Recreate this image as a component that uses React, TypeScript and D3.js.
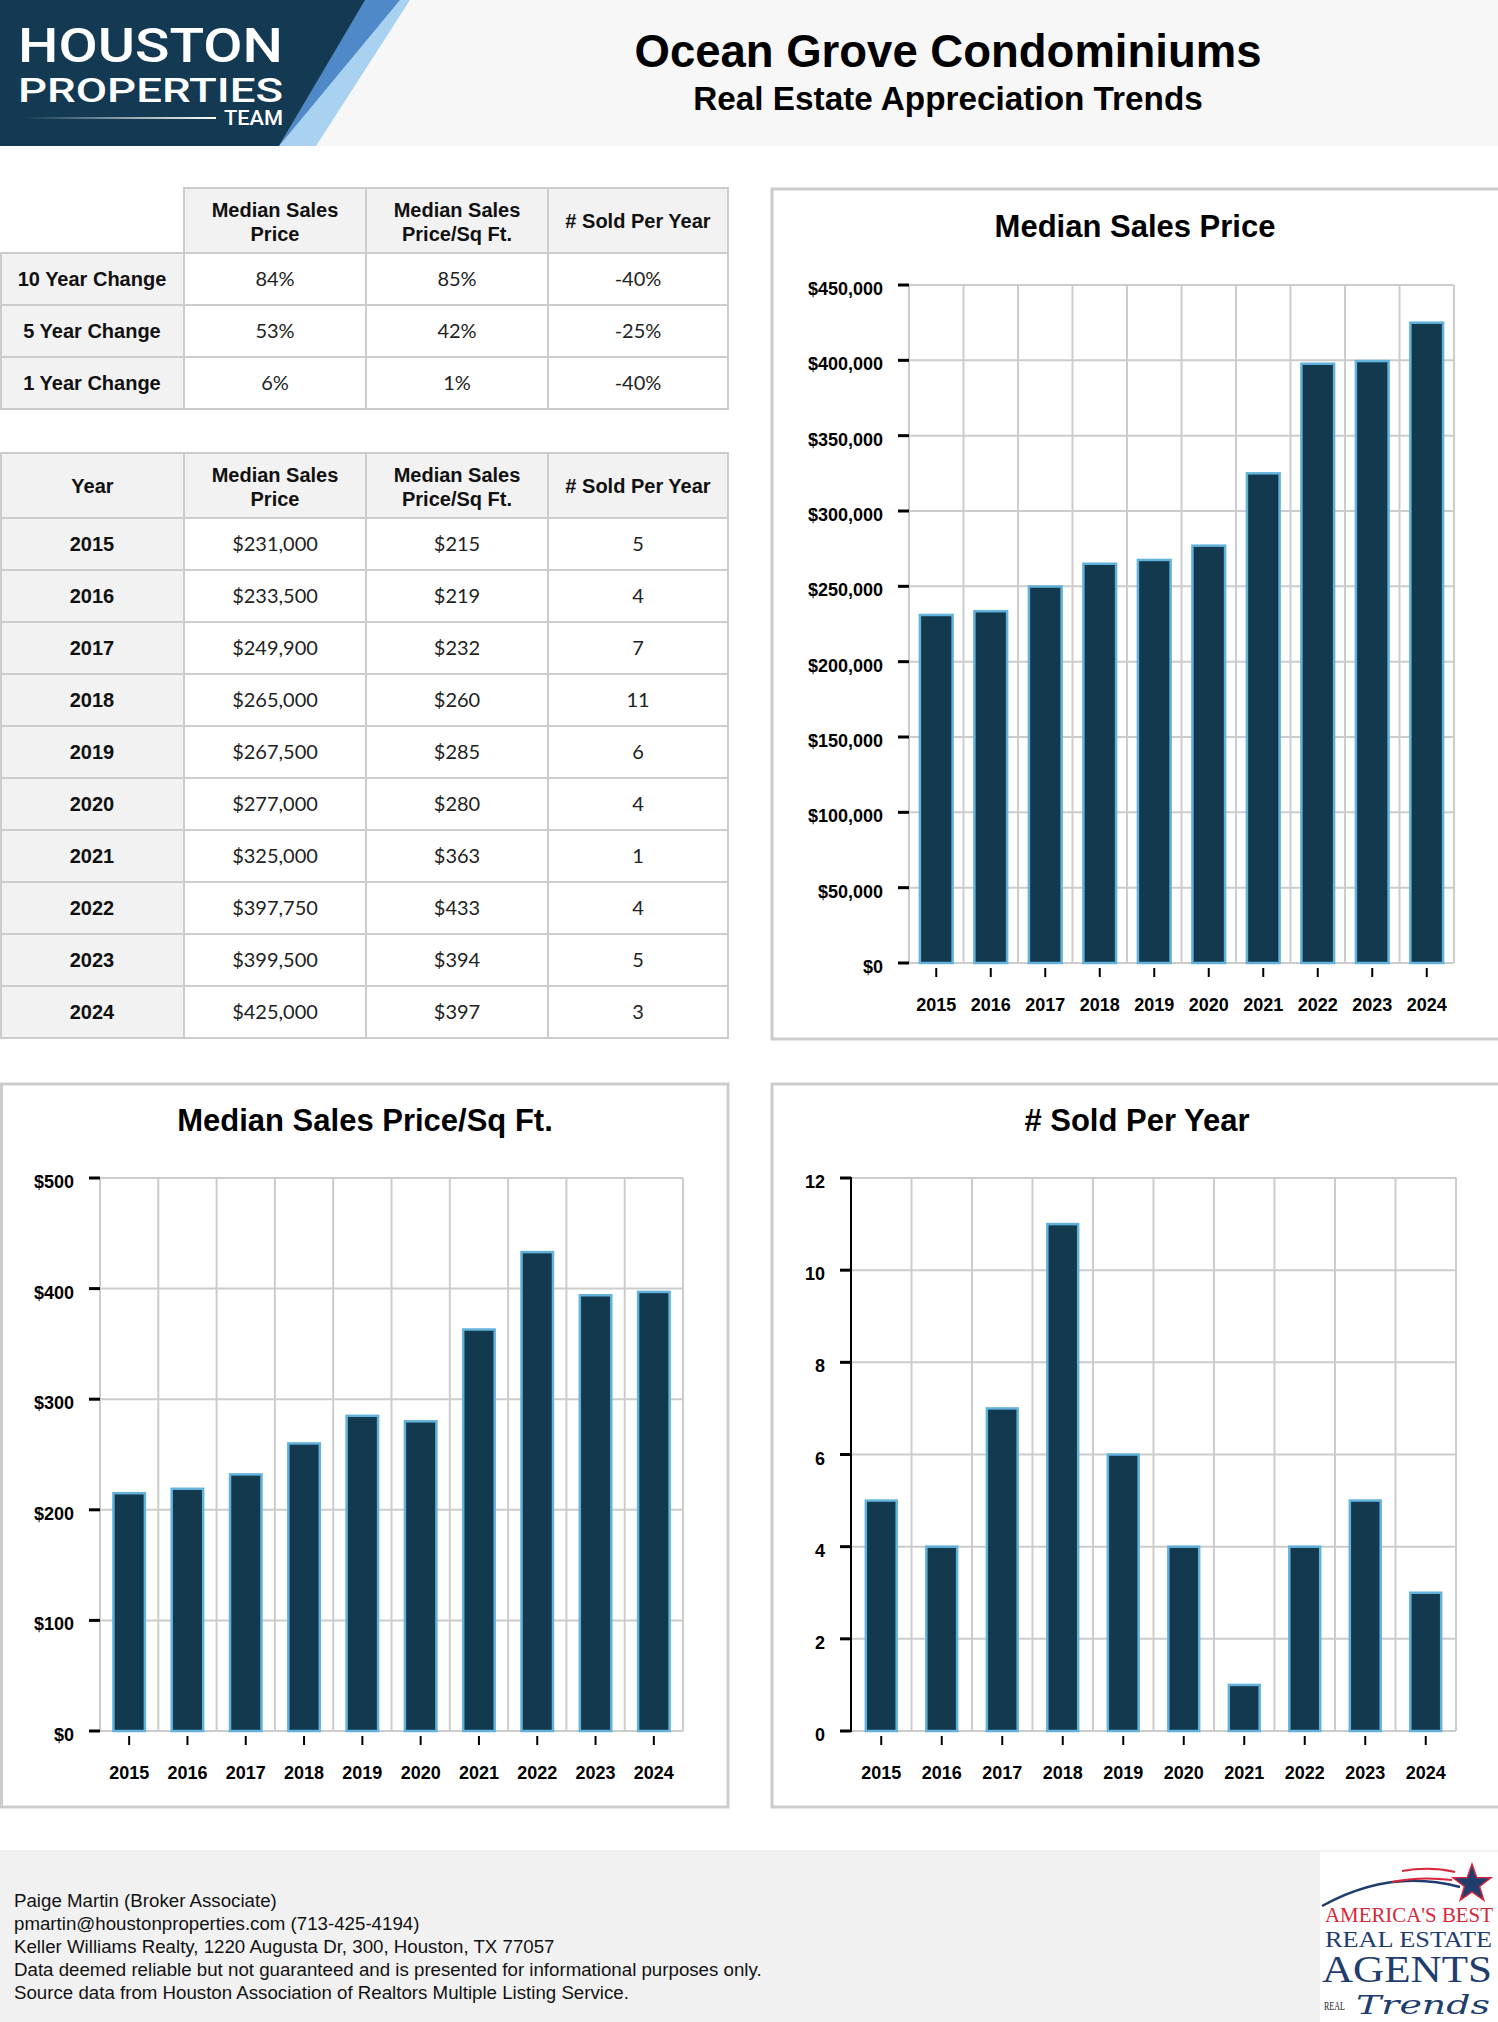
import React from 'react';
import * as d3 from 'd3';

const years = ['2015', '2016', '2017', '2018', '2019', '2020', '2021', '2022', '2023', '2024'];
const medianPrice = [231000, 233500, 249900, 265000, 267500, 277000, 325000, 397750, 399500, 425000];
const pricePerSqFt = [215, 219, 232, 260, 285, 280, 363, 433, 394, 397];
const soldPerYear = [5, 4, 7, 11, 6, 4, 1, 4, 5, 3];

const changeLabels = ['10 Year Change', '5 Year Change', '1 Year Change'];
const changePrice = ['84%', '53%', '6%'];
const changePsf = ['85%', '42%', '1%'];
const changeSold = ['-40%', '-25%', '-40%'];

const priceTicks = [0, 50000, 100000, 150000, 200000, 250000, 300000, 350000, 400000, 450000];
const psfTicks = [0, 100, 200, 300, 400, 500];
const soldTicks = [0, 2, 4, 6, 8, 10, 12];

const footerLines = [
  'Paige Martin (Broker Associate)',
  'pmartin@houstonproperties.com (713-425-4194)',
  'Keller Williams Realty, 1220 Augusta Dr, 300, Houston, TX 77057',
  'Data deemed reliable but not guaranteed and is presented for informational purposes only.',
  'Source data from Houston Association of Realtors Multiple Listing Service.',
];

const HEAD = '"Liberation Sans", Arial, Helvetica, sans-serif';
const VAL = 'Lato, "Liberation Sans", sans-serif';
const GRID = '#cccccc';
const BAR = '#12394e';
const BAR_STROKE = '#63b2dc';

const fmtMoney = (v: number) => '$' + d3.format(',')(v);
const fmtPlain = (v: number) => String(v);

type ChartProps = {
  title: string;
  values: number[];
  ticks: number[];
  fmt: (v: number) => string;
  panel: { x: number; y: number; w: number; h: number };
  plot: { left: number; right: number; top: number; bottom: number };
  titleX: number;
  titleY: number;
  barRatio: number;
  blackAxis?: boolean;
};

function BarChart(p: ChartProps) {
  const x = d3.scaleBand<string>().domain(years).range([p.plot.left, p.plot.right]).padding(0);
  const y = d3.scaleLinear().domain([0, p.ticks[p.ticks.length - 1]]).range([p.plot.bottom, p.plot.top]);
  const bw = x.bandwidth();
  const barW = bw * p.barRatio;
  const bounds = years.map((yr) => x(yr) as number).concat([p.plot.right]);
  return (
    <g>
      <rect x={p.panel.x} y={p.panel.y} width={p.panel.w} height={p.panel.h} fill="#fff" stroke={GRID} strokeWidth={3} />
      <text x={p.titleX} y={p.titleY} textAnchor="middle" fontFamily={HEAD} fontWeight="bold" fontSize={31} fill="#000">
        {p.title}
      </text>
      {p.ticks.map((t) => (
        <line key={'h' + t} x1={p.plot.left} x2={p.plot.right} y1={y(t)} y2={y(t)} stroke={GRID} strokeWidth={2} />
      ))}
      {bounds.map((bx, i) => (
        <line key={'v' + i} x1={bx} x2={bx} y1={p.plot.top} y2={p.plot.bottom} stroke={GRID} strokeWidth={2} />
      ))}
      {p.blackAxis && (
        <line x1={p.plot.left} x2={p.plot.left} y1={p.plot.top - 1} y2={p.plot.bottom + 1} stroke="#000" strokeWidth={2} />
      )}
      {p.values.map((v, i) => {
        const cx = (x(years[i]) as number) + bw / 2;
        return (
          <rect
            key={'b' + i}
            x={cx - barW / 2}
            y={y(v)}
            width={barW}
            height={y(0) - y(v)}
            fill={BAR}
            stroke={BAR_STROKE}
            strokeWidth={2.5}
          />
        );
      })}
      {p.ticks.map((t) => (
        <g key={'yt' + t}>
          <line x1={p.plot.left - 11} x2={p.plot.left} y1={y(t)} y2={y(t)} stroke="#000" strokeWidth={3} />
          <text x={p.plot.left - 26} y={y(t) + 10} textAnchor="end" fontFamily={HEAD} fontWeight="bold" fontSize={18} fill="#000">
            {p.fmt(t)}
          </text>
        </g>
      ))}
      {years.map((yr) => {
        const cx = (x(yr) as number) + bw / 2;
        return (
          <g key={'xt' + yr}>
            <line x1={cx} x2={cx} y1={p.plot.bottom + 5} y2={p.plot.bottom + 14} stroke="#000" strokeWidth={2} />
            <text x={cx} y={p.plot.bottom + 48} textAnchor="middle" fontFamily={HEAD} fontWeight="bold" fontSize={18} fill="#000">
              {yr}
            </text>
          </g>
        );
      })}
    </g>
  );
}

const colX = [0, 184, 366, 548, 728];

function HeaderCell({ x0, x1, y0, y1, lines }: { x0: number; x1: number; y0: number; y1: number; lines: string[] }) {
  const cx = (x0 + x1) / 2;
  const cy = (y0 + y1) / 2;
  return (
    <g>
      <rect x={x0} y={y0} width={x1 - x0} height={y1 - y0} fill="#f2f2f2" stroke={GRID} strokeWidth={2} />
      {lines.length === 1 ? (
        <text x={cx} y={cy + 7} textAnchor="middle" fontFamily={HEAD} fontWeight="bold" fontSize={20} fill="#111">
          {lines[0]}
        </text>
      ) : (
        lines.map((l, i) => (
          <text key={i} x={cx} y={cy - 4 + i * 24} textAnchor="middle" fontFamily={HEAD} fontWeight="bold" fontSize={20} fill="#111">
            {l}
          </text>
        ))
      )}
    </g>
  );
}

function Row({ y0, y1, label, vals }: { y0: number; y1: number; label: string; vals: string[] }) {
  const cy = (y0 + y1) / 2 + 7;
  return (
    <g>
      <rect x={colX[0] + 1} y={y0} width={colX[1] - colX[0] - 1} height={y1 - y0} fill="#f2f2f2" stroke={GRID} strokeWidth={2} />
      <text x={(colX[0] + colX[1]) / 2} y={cy} textAnchor="middle" fontFamily={HEAD} fontWeight="bold" fontSize={20} fill="#111">
        {label}
      </text>
      {vals.map((v, i) => (
        <g key={i}>
          <rect x={colX[i + 1]} y={y0} width={colX[i + 2] - colX[i + 1]} height={y1 - y0} fill="#fff" stroke={GRID} strokeWidth={2} />
          <text x={(colX[i + 1] + colX[i + 2]) / 2} y={cy} textAnchor="middle" fontFamily={VAL} fontSize={20} fill="#222">
            {v}
          </text>
        </g>
      ))}
    </g>
  );
}

export default function App() {
  const hdr = [['Median Sales', 'Price'], ['Median Sales', 'Price/Sq Ft.'], ['# Sold Per Year']];
  const t1Top = 188, t1H = 65, rowH = 52;
  const t2Top = 453;
  return (
    <div style={{ position: 'absolute', left: 0, top: 0 }}>
      <svg width={1498} height={2022} viewBox="0 0 1498 2022" style={{ display: 'block' }}>
        <defs>
          <linearGradient id="teamLine" x1="0" x2="1" y1="0" y2="0">
            <stop offset="0" stopColor="#ffffff" stopOpacity={0} />
            <stop offset="1" stopColor="#ffffff" stopOpacity={1} />
          </linearGradient>
        </defs>
        <rect x={0} y={0} width={1498} height={2022} fill="#fff" />
        {/* Header */}
        <rect x={0} y={0} width={1498} height={146} fill="#f7f7f7" />
        <polygon points="392,0 410,0 316,146 279,146" fill="#a9d2f1" />
        <polygon points="364,0 400,0 279,146" fill="#4f89c7" />
        <polygon points="0,0 365,0 279,146 0,146" fill="#133a52" />
        <text x={18} y={62} fontFamily='Roboto, "Noto Sans", sans-serif' fontWeight={500} fontSize={48} fill="#fff" textLength={265} lengthAdjust="spacingAndGlyphs">
          HOUSTON
        </text>
        <text x={18} y={102} fontFamily='Roboto, "Noto Sans", sans-serif' fontWeight={500} fontSize={33} fill="#fff" textLength={265} lengthAdjust="spacingAndGlyphs">
          PROPERTIES
        </text>
        <rect x={24} y={117} width={192} height={2} fill="url(#teamLine)" />
        <text x={224} y={125} fontFamily='Roboto, "Noto Sans", sans-serif' fontWeight={500} fontSize={21} fill="#fff" textLength={59} lengthAdjust="spacingAndGlyphs">
          TEAM
        </text>
        <text x={948} y={67} textAnchor="middle" fontFamily={HEAD} fontWeight="bold" fontSize={45.5} fill="#000">
          Ocean Grove Condominiums
        </text>
        <text x={948} y={110} textAnchor="middle" fontFamily={HEAD} fontWeight="bold" fontSize={33.3} fill="#000">
          Real Estate Appreciation Trends
        </text>

        {/* Table 1 */}
        {hdr.map((h, i) => (
          <HeaderCell key={'t1h' + i} x0={colX[i + 1]} x1={colX[i + 2]} y0={t1Top} y1={t1Top + t1H} lines={h} />
        ))}
        {changeLabels.map((l, i) => (
          <Row key={'t1r' + i} y0={t1Top + t1H + i * rowH} y1={t1Top + t1H + (i + 1) * rowH} label={l} vals={[changePrice[i], changePsf[i], changeSold[i]]} />
        ))}

        {/* Table 2 */}
        <HeaderCell x0={colX[0] + 1} x1={colX[1]} y0={t2Top} y1={t2Top + t1H} lines={['Year']} />
        {hdr.map((h, i) => (
          <HeaderCell key={'t2h' + i} x0={colX[i + 1]} x1={colX[i + 2]} y0={t2Top} y1={t2Top + t1H} lines={h} />
        ))}
        {years.map((yr, i) => (
          <Row
            key={'t2r' + i}
            y0={t2Top + t1H + i * rowH}
            y1={t2Top + t1H + (i + 1) * rowH}
            label={yr}
            vals={[fmtMoney(medianPrice[i]), fmtMoney(pricePerSqFt[i]), String(soldPerYear[i])]}
          />
        ))}

        {/* Charts */}
        <BarChart
          title="Median Sales Price"
          values={medianPrice}
          ticks={priceTicks}
          fmt={fmtMoney}
          panel={{ x: 772, y: 189, w: 728, h: 850 }}
          plot={{ left: 909, right: 1454, top: 285, bottom: 963 }}
          titleX={1135}
          titleY={237}
          barRatio={0.6}
        />
        <BarChart
          title="Median Sales Price/Sq Ft."
          values={pricePerSqFt}
          ticks={psfTicks}
          fmt={fmtMoney}
          panel={{ x: 1.5, y: 1084, w: 726.5, h: 723 }}
          plot={{ left: 100, right: 683, top: 1178, bottom: 1731 }}
          titleX={365}
          titleY={1131}
          barRatio={0.54}
        />
        <BarChart
          title="# Sold Per Year"
          values={soldPerYear}
          ticks={soldTicks}
          fmt={fmtPlain}
          panel={{ x: 772, y: 1084, w: 728, h: 723 }}
          plot={{ left: 851, right: 1456, top: 1178, bottom: 1731 }}
          titleX={1137}
          titleY={1131}
          barRatio={0.51}
          blackAxis
        />

        {/* Footer */}
        <rect x={0} y={1850} width={1498} height={172} fill="#f1f1f1" />
        {footerLines.map((l, i) => (
          <text key={'f' + i} x={14} y={1907 + i * 23} fontFamily={HEAD} fontSize={18.7} fill="#111">
            {l}
          </text>
        ))}
        <rect x={1320} y={1852} width={178} height={170} fill="#fff" />
        <path d="M1322,1906 Q1390,1868 1460,1887" fill="none" stroke="#1f3e6e" strokeWidth={2.5} />
        <path d="M1402,1871 Q1430,1866 1455,1872" fill="none" stroke="#d9263a" strokeWidth={2} />
        <path d="M1392,1882 Q1420,1876 1452,1880" fill="none" stroke="#d9263a" strokeWidth={2} />
        <polygon
          points={d3
            .range(10)
            .map((k) => {
              const r = k % 2 === 0 ? 20 : 8;
              const a = -Math.PI / 2 + (k * Math.PI) / 5;
              return `${1472 + r * Math.cos(a)},${1884 + r * Math.sin(a)}`;
            })
            .join(' ')}
          fill="#1f3e6e"
          stroke="#d9263a"
          strokeWidth={1.5}
        />
        <text x={1325} y={1922} fontFamily='"Liberation Serif", "DejaVu Serif", serif' fontSize={20} fill="#d9263a" textLength={168} lengthAdjust="spacingAndGlyphs">
          AMERICA'S BEST
        </text>
        <text x={1325} y={1947} fontFamily='"Liberation Serif", "DejaVu Serif", serif' fontSize={23} fill="#1f3e6e" textLength={167} lengthAdjust="spacingAndGlyphs">
          REAL ESTATE
        </text>
        <text x={1322} y={1982} fontFamily='"Liberation Serif", "DejaVu Serif", serif' fontSize={38} fill="#1f3e6e" textLength={170} lengthAdjust="spacingAndGlyphs">
          AGENTS
        </text>
        <text x={1324} y={2010} fontFamily='"Liberation Serif", "DejaVu Serif", serif' fontSize={13} fill="#222" textLength={21} lengthAdjust="spacingAndGlyphs">
          REAL
        </text>
        <text x={1356} y={2014} fontFamily='"DejaVu Serif", serif' fontStyle="italic" fontSize={26} fill="#1f3e6e" textLength={134} lengthAdjust="spacingAndGlyphs">
          Trends
        </text>
      </svg>
    </div>
  );
}
